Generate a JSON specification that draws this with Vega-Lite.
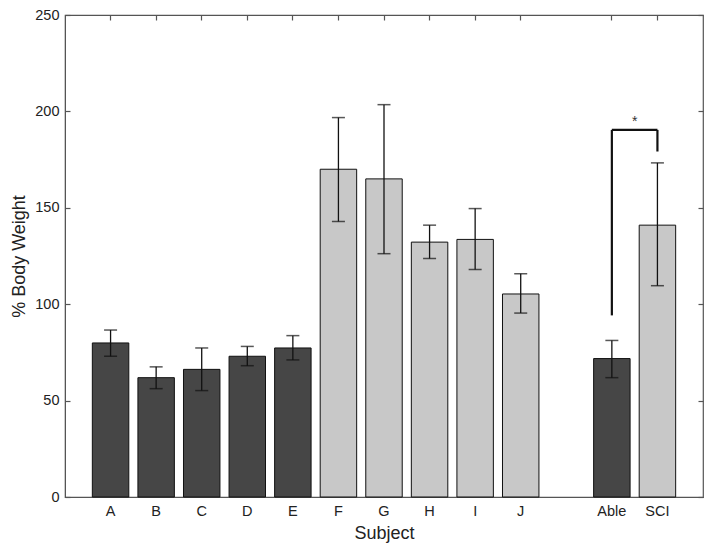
{
  "$schema": "https://vega.github.io/schema/vega-lite/v6.json",
  "autosize": "none",
  "width": 638,
  "height": 482,
  "padding": {"left": 65, "top": 15, "right": 10, "bottom": 56},
  "background": "white",
  "config": {
    "view": {"stroke": "#555555", "strokeWidth": 1.2},
    "font": "Liberation Sans",
    "axis": {
      "domainColor": "#555555",
      "tickColor": "#555555",
      "tickWidth": 1.2,
      "labelColor": "#222222",
      "titleColor": "#222222",
      "labelFont": "Liberation Sans",
      "titleFont": "Liberation Sans",
      "titleFontWeight": "normal",
      "labelFontSize": 14.5,
      "titleFontSize": 18,
      "grid": false
    }
  },
  "datasets": {
    "bars": [
      {"subject": "A", "mean": 79.9, "lo": 73.0, "hi": 86.6, "group": "able"},
      {"subject": "B", "mean": 61.9, "lo": 56.2, "hi": 67.5, "group": "able"},
      {"subject": "C", "mean": 66.2, "lo": 55.2, "hi": 77.3, "group": "able"},
      {"subject": "D", "mean": 73.0, "lo": 68.1, "hi": 78.1, "group": "able"},
      {"subject": "E", "mean": 77.3, "lo": 71.1, "hi": 83.7, "group": "able"},
      {"subject": "F", "mean": 170.0, "lo": 142.9, "hi": 196.8, "group": "sci"},
      {"subject": "G", "mean": 165.0, "lo": 126.2, "hi": 203.5, "group": "sci"},
      {"subject": "H", "mean": 132.2, "lo": 123.7, "hi": 141.0, "group": "sci"},
      {"subject": "I", "mean": 133.6, "lo": 118.0, "hi": 149.6, "group": "sci"},
      {"subject": "J", "mean": 105.3, "lo": 95.4, "hi": 115.8, "group": "sci"},
      {"subject": "Able", "mean": 71.8, "lo": 61.9, "hi": 81.2, "group": "able"},
      {"subject": "SCI", "mean": 141.0, "lo": 109.6, "hi": 173.3, "group": "sci"}
    ],
    "legs": [
      {"subject": "Able", "y": 94.2, "y2": 190.4},
      {"subject": "SCI", "y": 179.2, "y2": 190.4}
    ],
    "bridge": [
      {"from": "Able", "to": "SCI", "y": 190.4, "label": "*", "ystar": 194.5}
    ]
  },
  "layer": [
    {
      "layer": [
        {
          "data": {"name": "bars"},
          "mark": {"type": "bar", "stroke": "#111111", "strokeWidth": 1},
          "encoding": {
            "x": {
              "field": "subject", "type": "nominal", "title": "Subject",
              "scale": {"domain": ["A","B","C","D","E","F","G","H","I","J","gap","Able","SCI"], "paddingInner": 0.2, "paddingOuter": 0.6},
              "axis": {"orient": "bottom", "title": "Subject", "labelAngle": 0, "ticks": false, "labelPadding": 7, "titlePadding": 7,
                       "labelExpr": "datum.value == 'gap' ? '' : datum.value"}
            },
            "y": {
              "field": "mean", "type": "quantitative", "title": "% Body Weight",
              "scale": {"domain": [0, 250], "nice": false},
              "axis": {"orient": "left", "title": "% Body Weight", "values": [0,50,100,150,200,250], "tickSize": -5, "labelPadding": 11, "titlePadding": 6}
            },
            "color": {"field": "group", "type": "nominal", "legend": null,
                      "scale": {"domain": ["able", "sci"], "range": ["#464646", "#c8c8c8"]}}
          }
        },
        {
          "data": {"name": "bars"},
          "mark": {"type": "tick", "color": "#111111", "thickness": 1.5, "size": 13},
          "encoding": {
            "x": {"field": "subject", "type": "nominal", "title": "Subject"},
            "y": {"field": "lo", "type": "quantitative", "title": "% Body Weight"}
          }
        },
        {
          "data": {"name": "bars"},
          "mark": {"type": "tick", "color": "#111111", "thickness": 1.5, "size": 13},
          "encoding": {
            "x": {"field": "subject", "type": "nominal", "title": "Subject"},
            "y": {"field": "hi", "type": "quantitative", "title": "% Body Weight"}
          }
        },
        {
          "data": {"name": "legs"},
          "mark": {"type": "rule", "color": "#111111", "strokeWidth": 2.2},
          "encoding": {
            "x": {"field": "subject", "type": "nominal", "title": "Subject"},
            "y": {"field": "y", "type": "quantitative", "title": "% Body Weight"},
            "y2": {"field": "y2"}
          }
        },
        {
          "data": {"name": "bridge"},
          "mark": {"type": "rule", "color": "#111111", "strokeWidth": 2.2},
          "encoding": {
            "x": {"field": "from", "type": "nominal", "title": "Subject"},
            "x2": {"field": "to"},
            "y": {"field": "y", "type": "quantitative", "title": "% Body Weight"}
          }
        },
        {
          "data": {"name": "bridge"},
          "mark": {"type": "text", "color": "#333333", "fontSize": 14, "baseline": "middle"},
          "encoding": {
            "x": {"field": "from", "type": "nominal", "bandPosition": 1.125, "title": "Subject"},
            "y": {"field": "ystar", "type": "quantitative", "title": "% Body Weight"},
            "text": {"field": "label"}
          }
        }
      ]
    },
    {
      "data": {"name": "bars"},
      "mark": {"type": "rule", "color": "#111111", "strokeWidth": 1.3},
      "encoding": {
        "x": {"field": "subject", "type": "nominal",
              "axis": {"orient": "top", "title": null, "labels": false, "tickSize": -5, "domain": false,
                       "values": ["A","B","C","D","E","F","G","H","I","J","Able","SCI"]}},
        "y": {"field": "lo", "type": "quantitative",
              "axis": {"orient": "right", "title": null, "labels": false, "tickSize": -5, "domain": false, "values": [0,50,100,150,200,250]}},
        "y2": {"field": "hi"}
      }
    }
  ],
  "resolve": {"axis": {"x": "independent", "y": "independent"}}
}
